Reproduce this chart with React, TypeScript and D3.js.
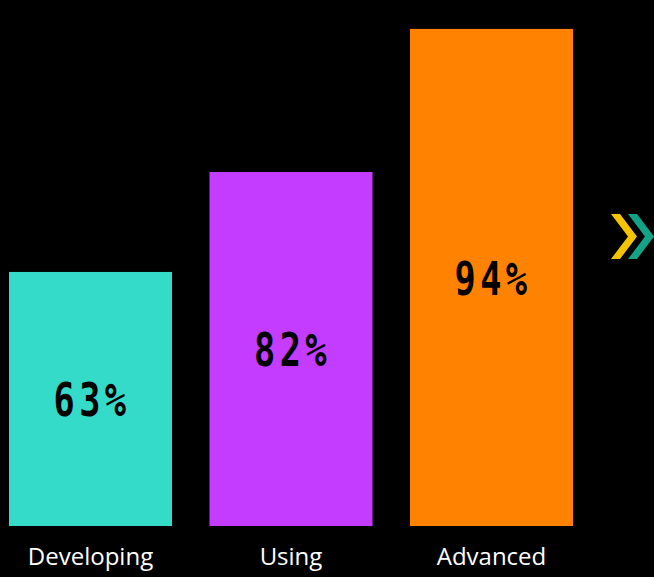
import React from 'react';
import * as d3 from 'd3';

const categories = ['Developing', 'Using', 'Advanced'];
const valueLabels = ['63%', '82%', '94%'];
// drawn bar lengths (bars are not proportional to the labels)
const barLevels = [48.3, 67.3, 94.5];
const colors = ['#34DBC9', '#C33CFF', '#FF8300'];

const W = 654;
const H = 577;

export default function App() {
  const x = d3.scaleBand<string>()
    .domain(categories)
    .range([9, 573])
    .paddingInner(0.187)
    .paddingOuter(0);

  const y = d3.scaleLinear().domain([0, 100]).range([526, 0]);

  return (
    <div style={{ position: 'fixed', left: 0, top: 0, width: W, height: H, background: '#000' }}>
      <svg width={W} height={H} style={{ display: 'block' }}>
        <rect width={W} height={H} fill="#000" />
        {categories.map((c, i) => {
          const bx = x(c) || 0;
          const top = y(barLevels[i]);
          const cx = bx + x.bandwidth() / 2;
          const cy = (top + y(0)) / 2;
          return (
            <g key={c}>
              <rect x={bx} y={top} width={x.bandwidth()} height={y(0) - top} fill={colors[i]} />
              <g transform={`translate(${cx},${cy}) scale(0.75,1)`}>
                <text
                  x={2}
                  dy="0.37em"
                  textAnchor="middle"
                  fill="#000"
                  style={{ fontFamily: '"DejaVu Sans Mono", monospace', fontWeight: 700, fontSize: 47, letterSpacing: 6 }}
                >
                  {valueLabels[i]}
                </text>
              </g>
              <text
                x={cx}
                y={565}
                textAnchor="middle"
                fill="#fff"
                style={{ fontFamily: '"Open Sans", "Noto Sans", sans-serif', fontSize: 24 }}
              >
                {c}
              </text>
            </g>
          );
        })}
        {/* decorative chevrons */}
        <g transform="translate(611,214)">
          <path d="M0,0 L9,0 L26,22.5 L9,45 L0,45 L17,22.5 Z" fill="#F5C400" />
          <path d="M17,0 L26,0 L43,22.5 L26,45 L17,45 L34,22.5 Z" fill="#13A387" />
        </g>
      </svg>
    </div>
  );
}
